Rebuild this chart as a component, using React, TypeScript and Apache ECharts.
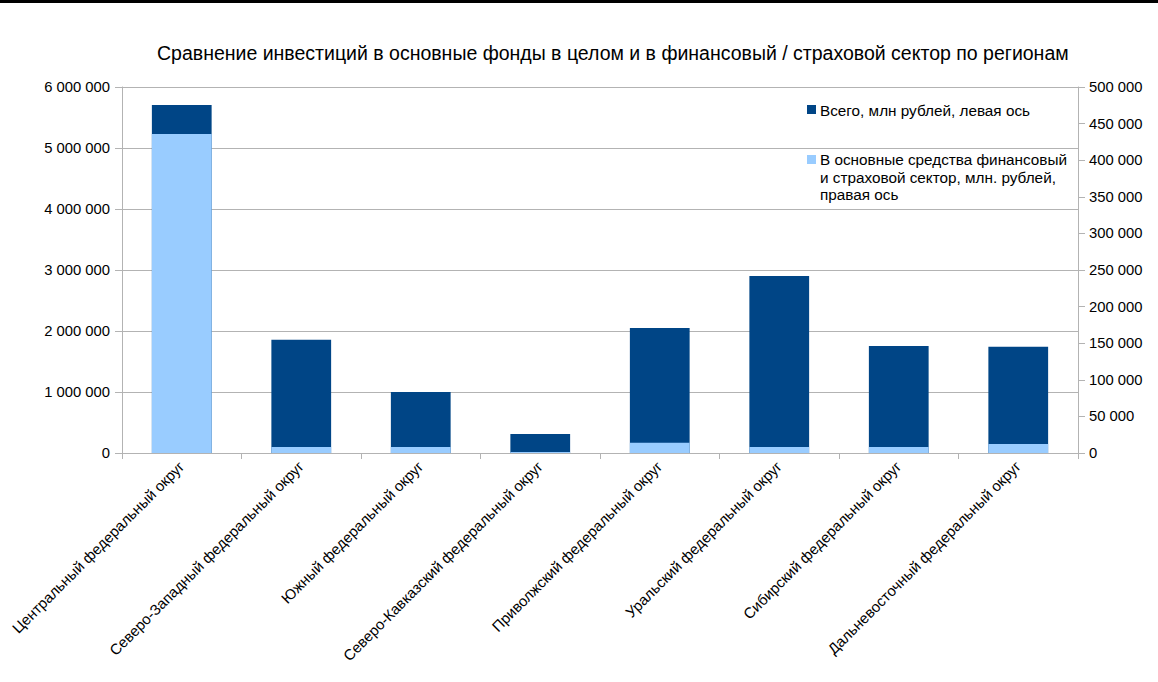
import React, { useEffect, useRef } from "react";
import * as echarts from "echarts";

const titleText =
  "Сравнение инвестиций в основные фонды в целом и в финансовый / страховой сектор по регионам";
const categories = [
  "Центральный федеральный округ",
  "Северо-Западный федеральный округ",
  "Южный федеральный округ",
  "Северо-Кавказский федеральный округ",
  "Приволжский федеральный округ",
  "Уральский федеральный округ",
  "Сибирский федеральный округ",
  "Дальневосточный федеральный округ",
];
const seriesNames = [
  "Всего, млн рублей, левая ось",
  "В основные средства финансовый\nи страховой сектор, млн. рублей,\nправая ось",
];
const totalValues = [5705000, 1855000, 1000000, 310000, 2050000, 2900000, 1755000, 1740000];
const financeValues = [435800, 8200, 8200, 1500, 14000, 8200, 8200, 12300];
const colors = ["#004586", "#99ccff"];

const fmt = (v: number) => String(Math.round(v)).replace(/\B(?=(\d{3})+(?!\d))/g, " ");

export default function App() {
  const ref = useRef<HTMLDivElement>(null);
  useEffect(() => {
    if (!ref.current) return;
    const chart = echarts.init(ref.current, undefined, { renderer: "svg" });
    const font = "'Liberation Sans', Arial, sans-serif";
    chart.setOption({
      animation: false,
      backgroundColor: "#ffffff",
      textStyle: { fontFamily: font },
      title: {
        text: titleText,
        left: 152,
        top: 38,
        textStyle: { fontSize: 19.5, fontWeight: "normal", color: "#000", fontFamily: font },
      },
      grid: { left: 122, right: 80, top: 87, bottom: 229, containLabel: false },
      xAxis: {
        type: "category",
        data: categories,
        axisLine: { lineStyle: { color: "#b3b3b3" } },
        axisTick: { show: true, length: 6, lineStyle: { color: "#b3b3b3" } },
        axisLabel: { rotate: 45, fontSize: 14.9, color: "#000", margin: 11, fontFamily: font, interval: 0 },
      },
      yAxis: [
        {
          type: "value",
          min: 0,
          max: 6000000,
          interval: 1000000,
          axisLine: { show: true, lineStyle: { color: "#b3b3b3" } },
          axisTick: { show: true, length: 7, lineStyle: { color: "#b3b3b3" } },
          splitLine: { show: true, lineStyle: { color: "#b3b3b3" } },
          axisLabel: { fontSize: 14.8, color: "#000", margin: 12, formatter: fmt, fontFamily: font },
        },
        {
          type: "value",
          min: 0,
          max: 500000,
          interval: 50000,
          position: "right",
          axisLine: { show: true, lineStyle: { color: "#b3b3b3" } },
          axisTick: { show: true, length: 7, lineStyle: { color: "#b3b3b3" } },
          splitLine: { show: false },
          axisLabel: { fontSize: 14.8, color: "#000", margin: 11, formatter: fmt, fontFamily: font },
        },
      ],
      series: [
        {
          name: seriesNames[0],
          type: "bar",
          yAxisIndex: 0,
          data: totalValues,
          barWidth: "50%",
          barGap: "-100%",
          itemStyle: { color: colors[0] },
        },
        {
          name: seriesNames[1],
          type: "bar",
          yAxisIndex: 1,
          data: financeValues,
          barWidth: "50%",
          barGap: "-100%",
          itemStyle: { color: colors[1] },
        },
      ],
      graphic: [
        { type: "rect", left: 0, top: 0, shape: { width: 1158, height: 3 }, style: { fill: "#000" } },
        { type: "rect", x: 807, y: 105, shape: { width: 9, height: 9 }, style: { fill: colors[0] } },
        {
          type: "text",
          x: 820,
          y: 110,
          style: { text: seriesNames[0], fill: "#000", font: "15.3px " + font, verticalAlign: "middle" },
        },
        { type: "rect", x: 807, y: 155, shape: { width: 9, height: 9 }, style: { fill: colors[1] } },
        {
          type: "text",
          x: 820,
          y: 151,
          style: {
            text: seriesNames[1],
            fill: "#000",
            font: "15.3px " + font,
            lineHeight: 17.5,
            verticalAlign: "top",
          },
        },
      ],
    });
    return () => chart.dispose();
  }, []);
  return (
    <div
      ref={ref}
      style={{ position: "fixed", left: 0, top: 0, width: 1158, height: 682, background: "#fff" }}
    />
  );
}
